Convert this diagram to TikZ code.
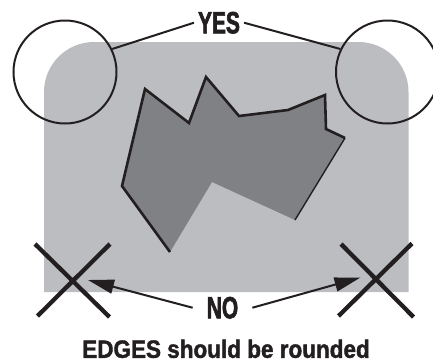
\documentclass[tikz,border=0pt]{standalone}
\usepackage{fontspec}
\usetikzlibrary{arrows.meta}
\newfontfamily\labfont[FakeStretch=0.68,FakeBold=2]{Liberation Sans Bold}
\newfontfamily\capfont[FakeStretch=0.9,FakeBold=1.6]{Liberation Sans Bold}
\definecolor{bggray}{RGB}{188,189,193}
\definecolor{shapegray}{RGB}{128,129,133}
\definecolor{ink}{RGB}{35,31,32}
\tikzset{
  lab/.style={font=\labfont\fontsize{30.7}{32}\selectfont, text=ink, inner ysep=0pt, anchor=base},
  ring/.style={circle, draw=ink, line width=2pt, minimum size=103pt, inner sep=0pt},
  conn/.style={draw=ink, line width=2pt},
  crossline/.style={draw=ink, line width=4.3pt},
  pointer/.style={draw=ink, line width=2pt, -{Triangle[length=26pt,width=14pt]}},
}
\begin{document}
\begin{tikzpicture}[x=1pt,y=-1pt]
\useasboundingbox (0,0) rectangle (433,362);
% rounded panel (top corners rounded)
\fill[bggray] (44,292) [rounded corners=50pt] -- (44,42) -- (408.5,42) [sharp corners] -- (408.5,292) -- cycle;
% irregular shape
\fill[shapegray] (145,89) -- (189,123) -- (206,77) -- (239,116) -- (288,110) -- (325,95) -- (326,129) -- (345,138) -- (295,220) -- (212,182) -- (170,252) -- (122,186) -- cycle;
\draw[ink, line width=2.6pt, line join=miter] (170,252) -- (122,186) -- (145,89) -- (189,123) -- (206,77) -- (239,116) -- (288,110) -- (325,95) -- (326,129) -- (345,138);
\draw[ink, line width=1.4pt] (345,138) -- (295,220);
% circles
\node[ring] (lc) at (65,72) {};
\node[ring] (rc) at (387.5,72) {};
% YES
\node[lab, inner xsep=4pt] (yes) at (219,33.3) {YES};
\draw[conn] (yes.west) -- (lc.26);
\draw[conn] (yes.east) -- (rc.154);
% crosses
\draw[crossline] (35,244) -- (109.5,317);
\draw[crossline] (110,244) -- (37.5,316);
\draw[crossline] (341,244) -- (413.5,317);
\draw[crossline] (412,243.5) -- (338.5,316);
\coordinate (ltip) at (88,280);
\coordinate (rtip) at (360.5,277.5);
% NO
\node[lab, inner xsep=14pt] (no) at (222.5,318.3) {NO};
\draw[pointer] (no.west) -- (ltip);
\draw[pointer] (no.east) -- (rtip);
% caption
\node[font=\capfont\fontsize{25}{27}\selectfont, text=ink, anchor=base, inner sep=0pt] (cap) at (226,357.8) {EDGES should be rounded};
\end{tikzpicture}
\end{document}
